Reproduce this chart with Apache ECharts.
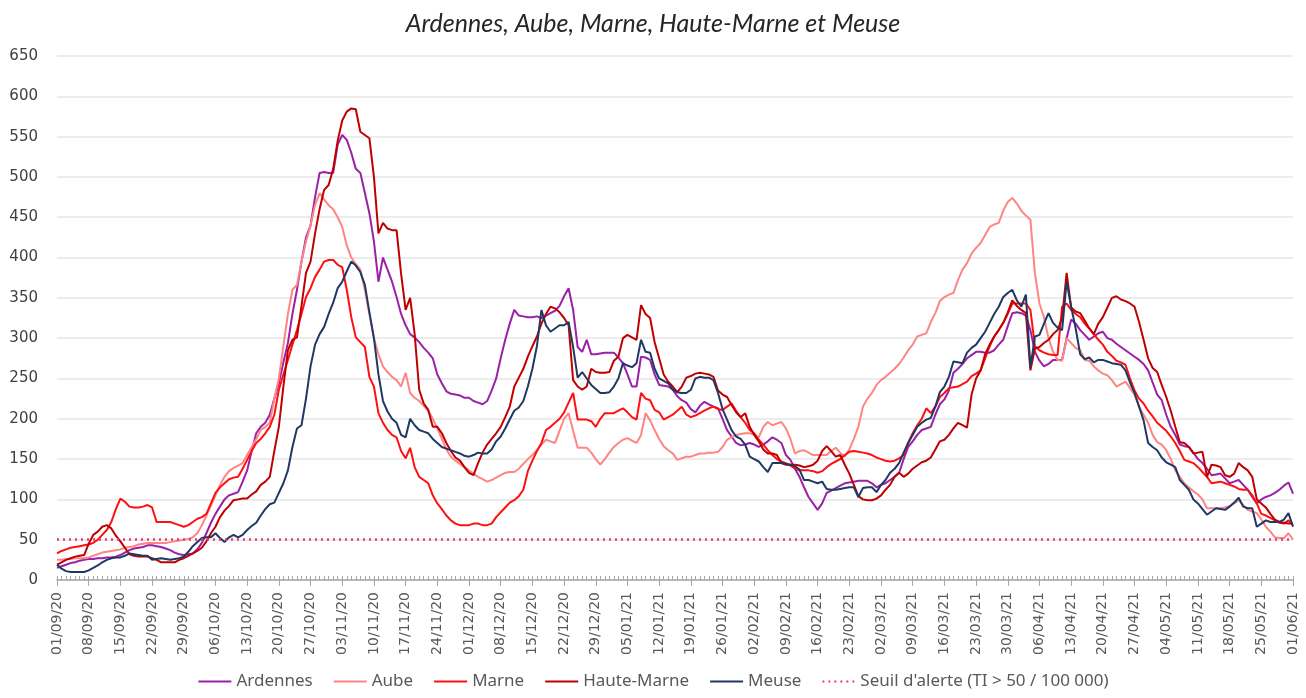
<!DOCTYPE html>
<html>
<head>
<meta charset="utf-8">
<script src="https://cdn.jsdelivr.net/npm/echarts@6/dist/echarts.min.js"></script>
<style>
  html, body { margin: 0; background: #fff; }
  #chart { width: 1306px; height: 698px; }
</style>
</head>
<body>
<div id="chart"></div>
<script>
// weekly tick labels (one every 7 days)
const tickLabels = [
  '01/09/20', '08/09/20', '15/09/20', '22/09/20', '29/09/20', '06/10/20', '13/10/20', '20/10/20',
  '27/10/20', '03/11/20', '10/11/20', '17/11/20', '24/11/20', '01/12/20', '08/12/20', '15/12/20',
  '22/12/20', '29/12/20', '05/01/21', '12/01/21', '19/01/21', '26/01/21', '02/02/21', '09/02/21',
  '16/02/21', '23/02/21', '02/03/21', '09/03/21', '16/03/21', '23/03/21', '30/03/21', '06/04/21',
  '13/04/21', '20/04/21', '27/04/21', '04/05/21', '11/05/21', '18/05/21', '25/05/21', '01/06/21',
]

// daily incidence rate per 100 000, one row per week starting 01/09/20
const ardennes = [
  15, 17, 19, 21, 22, 24, 25,
  26, 26, 27, 27, 28, 28, 29,
  31, 34, 37, 39, 40, 41, 43,
  43, 42, 41, 39, 37, 34, 32,
  31, 32, 33, 38, 46, 58, 71,
  82, 91, 100, 105, 107, 109, 122,
  136, 160, 182, 190, 195, 205, 225,
  244, 270, 294, 330, 360, 395, 425,
  440, 475, 505, 506, 505, 505, 540,
  552, 546, 530, 510, 505, 480, 455,
  420, 370, 400, 385, 370, 351, 330,
  316, 305, 301, 295, 288, 282, 275,
  255, 244, 234, 231, 230, 229, 226,
  226, 222, 220, 218, 222, 235, 250,
  275, 298, 318, 335, 328, 327, 326,
  326, 327, 325, 328, 331, 334, 340,
  352, 362, 335, 289, 283, 298, 280,
  280, 281, 282, 282, 282, 276, 269,
  255, 240, 240, 277, 276, 273, 255,
  242, 241, 240, 236, 228, 223, 220,
  212, 208, 216, 221, 218, 215, 213,
  200, 186, 178, 170, 167, 168, 170,
  168, 165, 168, 172, 177, 174, 170,
  155, 149, 138, 128, 115, 103, 95,
  87, 95, 108, 111, 114, 117, 120,
  121, 122, 123, 123, 123, 120, 115,
  118, 120, 124, 128, 133, 150, 165,
  172, 180, 186, 188, 190, 205, 218,
  224, 235, 257, 262, 268, 275, 279,
  283, 283, 282, 282, 285, 292, 298,
  315, 331, 332, 331, 328, 310, 283,
  272, 265, 268, 273, 273, 273, 300,
  323, 318, 310, 304, 298, 302, 306,
  308, 300, 298, 293, 289, 285, 281,
  277, 273, 268, 260, 245, 230, 223,
  205, 190, 180, 168, 166, 165, 158,
  150, 145, 138, 130, 131, 132, 126,
  120, 122, 124, 118, 112, 103, 95,
  100, 103, 105, 108, 112, 117, 121,
  107,
]

const aube = [
  25, 25, 26, 26, 27, 27, 27,
  28, 30, 32, 34, 35, 36, 37,
  38, 40, 41, 42, 44, 45, 46,
  46, 46, 46, 46, 47, 48, 49,
  50, 51, 53, 58, 68, 80, 92,
  105, 118, 128, 135, 139, 142, 145,
  155, 165, 175, 186, 190, 195, 225,
  250, 290, 330, 360, 366, 395, 420,
  440, 465, 480, 472, 465, 460, 450,
  438, 415, 400, 392, 385, 360, 330,
  300, 280, 265, 258, 252, 248, 240,
  257, 232, 226, 222, 216, 210, 200,
  188, 175, 162, 153, 148, 144, 140,
  136, 132, 128, 125, 122, 124, 127,
  130, 133, 134, 134, 138, 144, 150,
  155, 161, 168, 174, 172, 170, 185,
  200, 207, 185, 164, 164, 164, 158,
  150, 143, 150, 158, 165, 170, 174,
  176, 173, 170, 180, 207, 198, 186,
  175, 166, 161, 157, 149, 151, 153,
  153, 155, 157, 157, 158, 158, 159,
  165, 174, 177, 180, 181, 182, 182,
  180, 177, 190, 196, 192, 194, 196,
  188, 175, 157, 160, 161, 158, 155,
  155, 155, 155, 160, 164, 158, 153,
  162, 175, 190, 215, 225, 232, 242,
  248, 252, 257, 262, 268, 276, 285,
  292, 302, 304, 306, 320, 331, 346,
  351, 354, 356, 372, 385, 393, 405,
  412, 418, 428, 438, 441, 443, 458,
  469, 474, 467, 458, 452, 447, 380,
  343, 326, 300, 283, 273, 272, 300,
  294, 288, 285, 273, 272, 265, 260,
  256, 254, 248, 240, 243, 246, 238,
  230, 215, 205, 195, 180, 171, 168,
  161, 150, 136, 128, 120, 115, 110,
  106, 100, 89, 89, 89, 89, 90,
  92, 95, 99, 93, 87, 85, 83,
  75, 66, 60, 53, 52, 52, 58,
  50,
]

const marne = [
  33, 36, 38, 40, 41, 42, 43,
  44, 46, 50, 56, 62, 72, 88,
  101, 97, 91, 90, 90, 91, 93,
  90, 72, 72, 72, 72, 70, 68,
  66, 68, 72, 76, 78, 82, 95,
  108, 115, 120, 125, 127, 128, 138,
  149, 160, 170, 175, 182, 190, 205,
  236, 255, 273, 292, 310, 330, 351,
  362, 376, 385, 395, 397, 397, 391,
  388, 360, 326, 301, 295, 289, 252,
  240, 207, 195, 186, 180, 177, 160,
  151, 164, 140, 128, 124, 120, 105,
  95, 88, 80, 74, 70, 68, 68,
  68, 70, 70, 68, 68, 70, 78,
  84, 90, 96, 99, 104, 112, 135,
  148, 160, 170, 186, 190, 195, 200,
  208, 220, 232, 199, 199, 199, 197,
  190, 200, 207, 207, 207, 210, 213,
  208, 202, 199, 232, 225, 223, 211,
  208, 199, 202, 205, 210, 215, 205,
  202, 204, 207, 210, 213, 215, 212,
  211, 215, 219, 210, 202, 195, 186,
  182, 174, 168, 161, 155, 150, 147,
  145, 142, 138, 136, 136, 136, 135,
  133, 135, 140, 144, 147, 150, 155,
  159, 160, 159, 158, 157, 155, 152,
  150, 148, 147, 148, 151, 155, 170,
  182, 192, 200, 213, 207, 215, 227,
  232, 238, 239, 240, 243, 246, 253,
  256, 260, 275, 290, 302, 310, 319,
  330, 343, 343, 343, 343, 335, 290,
  285, 282, 280, 279, 279, 339, 343,
  335, 330, 326, 318, 312, 305, 298,
  292, 283, 278, 272, 270, 267, 250,
  235, 225, 219, 210, 203, 195, 190,
  185, 178, 170, 160, 149, 147, 145,
  140, 134, 128, 120, 121, 122, 120,
  118, 116, 113, 112, 112, 105, 95,
  82, 80, 77, 74, 71, 70, 74,
  68,
]

const hauteMarne = [
  19, 22, 25, 27, 29, 30, 31,
  45, 56, 60, 66, 68, 64, 55,
  48, 40, 32, 30, 29, 29, 29,
  27, 25, 22, 22, 22, 22, 25,
  27, 30, 33, 36, 40, 48, 58,
  66, 78, 86, 92, 99, 100, 101,
  101, 106, 110, 118, 122, 128, 160,
  190, 240, 285, 298, 301, 340, 381,
  395, 430, 460, 484, 490, 510, 545,
  570, 581, 585, 584, 556, 552, 548,
  500, 430, 443, 436, 434, 434, 380,
  335, 350, 305, 236, 219, 211, 190,
  190, 182, 170, 160, 152, 148, 140,
  133, 130, 145, 158, 168, 175, 182,
  190, 202, 215, 240, 251, 262, 277,
  290, 302, 318, 330, 339, 337, 332,
  325, 316, 248, 240, 236, 240, 262,
  258, 257, 257, 258, 272, 277, 300,
  304, 301, 298, 341, 330, 325, 295,
  275, 255, 246, 240, 233, 240, 251,
  253, 256, 257, 256, 255, 252, 235,
  230, 227, 217, 208, 202, 207, 190,
  180, 172, 162, 157, 157, 155, 145,
  143, 143, 143, 142, 140, 141, 143,
  148, 160, 166, 160, 153, 155, 143,
  132, 118, 104, 100, 99, 99, 101,
  105, 112, 118, 128, 133, 128, 132,
  138, 142, 146, 148, 152, 162, 172,
  174, 180, 188, 195, 192, 189, 230,
  250, 260, 280, 292, 302, 310, 319,
  332, 347, 340, 335, 331, 260, 287,
  289, 294, 298, 305, 310, 325, 381,
  338, 333, 331, 322, 312, 305, 318,
  326, 338, 350, 352, 348, 346, 343,
  339, 320, 298, 275, 263, 258, 242,
  227, 210, 190, 171, 170, 165, 157,
  158, 159, 128, 143, 142, 140, 130,
  128, 132, 145, 140, 136, 128, 100,
  95, 90, 82, 75, 72, 71, 70,
  70,
]

const meuse = [
  19, 14, 11, 10, 10, 10, 10,
  12, 15, 18, 22, 25, 27, 28,
  28, 30, 33, 32, 31, 30, 30,
  25, 26, 27, 26, 25, 26, 27,
  29, 35, 42, 47, 52, 53, 53,
  58, 52, 47, 53, 56, 53, 56,
  62, 67, 71, 80, 88, 94, 96,
  108, 120, 136, 165, 188, 192, 225,
  265, 292, 305, 314, 330, 344, 362,
  370, 383, 395, 390, 382, 366, 332,
  300, 255, 222, 209, 200, 195, 180,
  177, 200, 192, 186, 184, 182, 175,
  170, 165, 163, 161, 159, 157, 154,
  153, 155, 158, 157, 157, 162, 172,
  178, 188, 199, 210, 214, 222, 240,
  262, 290, 335, 316, 308, 312, 316,
  316, 320, 289, 251, 258, 250, 242,
  237, 232, 232, 233, 240, 250, 269,
  266, 264, 269, 298, 283, 282, 262,
  250, 247, 244, 236, 233, 232, 232,
  236, 250, 252, 251, 251, 248, 232,
  212, 199, 186, 178, 175, 168, 153,
  150, 147, 140, 134, 145, 145, 145,
  144, 143, 141, 137, 124, 124, 122,
  120, 122, 113, 112, 112, 113, 114,
  115, 115, 103, 114, 115, 115, 109,
  118, 124, 133, 138, 145, 158, 170,
  180, 190, 195, 199, 201, 215, 233,
  240, 252, 271, 270, 269, 282, 288,
  292, 300, 308, 319, 330, 339, 351,
  356, 360, 347, 339, 354, 264, 302,
  304, 318, 331, 319, 313, 310, 370,
  339, 312, 280, 274, 276, 270, 273,
  273, 271, 269, 268, 267, 260, 245,
  232, 215, 198, 170, 165, 161, 152,
  146, 143, 140, 124, 118, 112, 100,
  95, 88, 81, 85, 89, 88, 87,
  91, 96, 102, 91, 89, 89, 66,
  70, 74, 72, 72, 72, 75, 83,
  66,
]

const seuil = 50
const seuilName = "Seuil d'alerte (TI > 50 / 100 000)"
const days = ardennes.map((_, i) => String(i))

const axisFont = 'DejaVu Sans'
const tickColor = '#a6a6a6'

function lineSeries(name, data, color) {
  return {
    name,
    type: 'line',
    data,
    symbol: 'none',
    lineStyle: { color, width: 2 },
    itemStyle: { color },
  }
}

const chart = echarts.init(document.getElementById('chart'))
chart.setOption({
  animation: false,
  backgroundColor: '#fff',
  title: {
    text: 'Ardennes, Aube, Marne, Haute-Marne et Meuse',
    left: 'center',
    top: 6,
    textStyle: { fontFamily: 'Lato', fontStyle: 'italic', fontWeight: 'normal', fontSize: 25, color: '#262626' },
  },
  grid: { left: 57, right: 13, top: 56, bottom: 118 },
  legend: {
    bottom: 3,
    itemWidth: 33,
    itemHeight: 10,
    itemGap: 20,
    itemStyle: { opacity: 0 },
    textStyle: { fontFamily: 'Noto Sans', fontSize: 17, color: '#595959' },
  },
  xAxis: [
    {
      type: 'category',
      data: days,
      boundaryGap: false,
      axisLine: { lineStyle: { color: tickColor, width: 1.5 } },
      axisTick: { interval: 0, inside: true, length: 4, lineStyle: { color: tickColor } },
      axisLabel: {
        interval: 6,
        rotate: 90,
        margin: 12,
        color: '#595959',
        fontFamily: axisFont,
        fontSize: 14,
        formatter: (v, i) => tickLabels[i / 7],
      },
    },
    {
      type: 'category',
      data: days,
      position: 'bottom',
      boundaryGap: false,
      axisLine: { show: false },
      axisTick: { interval: 6, length: 6, lineStyle: { color: tickColor } },
      axisLabel: { show: false },
    },
  ],
  yAxis: {
    type: 'value',
    min: 0,
    max: 650,
    interval: 50,
    axisLabel: { color: '#404040', fontFamily: axisFont, fontSize: 15, margin: 19 },
    splitLine: { lineStyle: { color: '#ececec', width: 2 } },
  },
  series: [
    lineSeries('Ardennes', ardennes, '#9b20a8'),
    lineSeries('Aube', aube, '#ff8585'),
    lineSeries('Marne', marne, '#ff1010'),
    lineSeries('Haute-Marne', hauteMarne, '#c00000'),
    lineSeries('Meuse', meuse, '#1f3864'),
    {
      name: seuilName,
      type: 'line',
      data: [],
      symbol: 'none',
      lineStyle: { color: '#e23a74', width: 2.5, type: [2, 4] },
      itemStyle: { color: '#e23a74' },
      markLine: {
        silent: true,
        symbol: 'none',
        label: { show: false },
        lineStyle: { color: '#e23a74', width: 2.5, type: [2, 4] },
        data: [{ yAxis: seuil }],
      },
    },
  ],
})

window.addEventListener('resize', () => chart.resize())
</script>
</body>
</html>
